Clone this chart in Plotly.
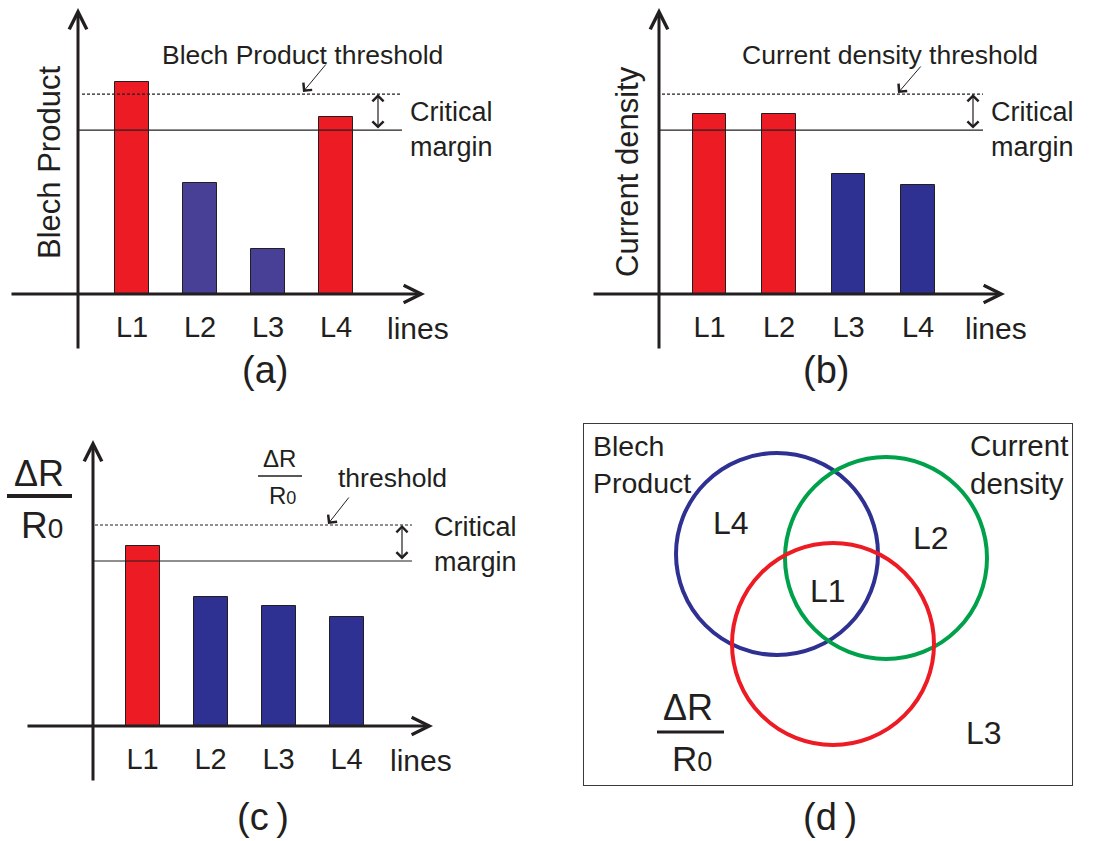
import plotly.graph_objects as go

W, H = 1100, 841
FONT = "Liberation Sans, Arial, sans-serif"
INK = "#231f20"
RED = "#ed1c24"
BLUE_A = "#483f96"
BLUE = "#2e3192"

# ---- data -------------------------------------------------------------
lines = ["L1", "L2", "L3", "L4"]
blech_product = [7.41, 3.88, 1.57, 6.19]
current_density = [6.29, 6.29, 4.20, 3.81]
resistance_change = [6.29, 4.51, 4.20, 3.81]

blech_threshold, blech_margin = 6.99, 5.73
current_threshold, current_margin = 6.99, 5.73
resistance_threshold, resistance_margin = 7.03, 5.77

# Venn sets: (label, centre x, centre y, radius, colour) in box units
venn_sets = [
    ("Blech Product", 193, 231, 101, "#2e3192"),
    ("Current density", 302, 227, 101, "#00a14b"),
    ("dR/R0", 249, 141, 101, "#ed1c24"),
]
venn_regions = [("L4", 731, 523), ("L2", 931, 538), ("L1", 828, 591), ("L3", 984, 733)]


def px(x):
    return x / W


def py(y):
    return 1 - y / H


fig = go.Figure()
annotations = []
shapes = []


def text(x, y, s, size, xanchor="center", yanchor="middle", angle=0, align="center"):
    annotations.append(dict(
        x=px(x), y=py(y), xref="paper", yref="paper", text=s, showarrow=False,
        xanchor=xanchor, yanchor=yanchor, textangle=angle, align=align,
        font=dict(family=FONT, size=size, color=INK)))


def hline(x0, x1, y, width=1.0, dash="solid", yref="paper"):
    shapes.append(dict(type="line", xref="paper", yref=yref,
                       x0=px(x0), x1=px(x1), y0=y, y1=y,
                       line=dict(color=INK, width=width, dash=dash)))


panels = [
    dict(values=blech_product, threshold=blech_threshold, margin=blech_margin, blue=BLUE_A,
         left=10, right=425, top=8, zero=294, bottom=350, origin=78, first=132, step=68, bar=0.5,
         dash_from=82, line_to=402, arrow_x=378, lines_x=418, lines_y=328,
         tag="(a)", tag_x=265, tag_y=370),
    dict(values=current_density, threshold=current_threshold, margin=current_margin, blue=BLUE,
         left=592, right=1005, top=8, zero=294, bottom=350, origin=659, first=709.5, step=69.5, bar=0.475,
         dash_from=662, line_to=983, arrow_x=973, lines_x=996, lines_y=328,
         tag="(b)", tag_x=826, tag_y=370),
    dict(values=resistance_change, threshold=resistance_threshold, margin=resistance_margin, blue=BLUE,
         left=26, right=433, top=440, zero=726, bottom=782, origin=93, first=142.5, step=68, bar=0.5,
         dash_from=95, line_to=412, arrow_x=402, lines_x=421, lines_y=760,
         tag="(c\u2009)", tag_x=263, tag_y=817),
]

layout_axes = {}
for i, p in enumerate(panels, start=1):
    xa = "x" if i == 1 else f"x{i}"
    ya = "y" if i == 1 else f"y{i}"
    colors = [RED if v > p["margin"] else p["blue"] for v in p["values"]]
    fig.add_trace(go.Bar(
        x=lines, y=p["values"], width=p["bar"], xaxis=xa, yaxis=ya,
        marker=dict(color=colors, line=dict(color=INK, width=1)),
        hoverinfo="x+y"))

    r0 = -(p["first"] - p["left"]) / p["step"]
    r1 = r0 + (p["right"] - p["left"]) / p["step"]
    layout_axes["xaxis" if i == 1 else f"xaxis{i}"] = dict(
        domain=[px(p["left"]), px(p["right"])], range=[r0, r1], type="category",
        anchor=ya, showline=False, showgrid=False, zeroline=False, ticks="",
        tickfont=dict(family=FONT, size=29, color=INK), ticklabelstandoff=13)
    layout_axes["yaxis" if i == 1 else f"yaxis{i}"] = dict(
        domain=[py(p["zero"]), py(p["top"])], range=[0, 10], anchor=xa,
        showline=False, showgrid=False, zeroline=False, showticklabels=False, ticks="")

    # axes drawn as arrows
    annotations.append(dict(xref="paper", yref=ya, x=px(p["right"]), y=0,
                            axref="pixel", ayref="pixel", ax=-(p["right"] - p["left"]), ay=0,
                            text="", showarrow=True, arrowhead=5, arrowsize=1.15, arrowwidth=3,
                            arrowcolor=INK, standoff=0))
    annotations.append(dict(xref="paper", yref=ya, x=px(p["origin"]), y=10,
                            axref="pixel", ayref="pixel", ax=0, ay=p["bottom"] - p["top"],
                            text="", showarrow=True, arrowhead=5, arrowsize=1.15, arrowwidth=3,
                            arrowcolor=INK, standoff=0))

    # threshold (dashed) and critical margin (solid) lines
    hline(p["dash_from"], p["line_to"], p["threshold"], width=1.1, dash="3px,2px", yref=ya)
    hline(p["origin"], p["line_to"], p["margin"], width=1.1, yref=ya)
    annotations.append(dict(xref="paper", yref=ya, x=px(p["arrow_x"]), y=p["threshold"],
                            axref="pixel", ax=0, ayref=ya, ay=p["margin"],
                            text="", showarrow=True, arrowside="end+start",
                            arrowhead=4, startarrowhead=4, arrowsize=1.8, startarrowsize=1.8,
                            arrowwidth=1.2, arrowcolor=INK, standoff=0, startstandoff=0))

    text(p["lines_x"], p["lines_y"], "lines", 30)
    text(p["tag_x"], p["tag_y"], p["tag"], 38)

# critical margin labels
text(408, 129, "Critical<br>margin", 27, xanchor="left", align="left")
text(989, 129, "Critical<br>margin", 27, xanchor="left", align="left")
text(432, 544, "Critical<br>margin", 27, xanchor="left", align="left")

# y axis titles
text(50, 163, "Blech Product", 31, angle=-90)
text(627, 172, "Current density", 31, angle=-90)
text(39, 473, "\u0394R", 36)
shapes.append(dict(type="line", xref="paper", yref="paper", x0=px(7), x1=px(72), y0=py(496), y1=py(496),
                   line=dict(color=INK, width=4)))
text(42, 525, "R<span style='font-size:28px'>0</span>", 37)

# threshold labels with pointer arrows
text(302, 55, "Blech Product threshold", 26.5)
text(890, 55, "Current density threshold", 26.5)
text(280, 458, "\u0394R", 24)
shapes.append(dict(type="line", xref="paper", yref="paper", x0=px(258), x1=px(302), y0=py(476), y1=py(476),
                   line=dict(color=INK, width=1.3)))
text(282, 496, "R<span style='font-size:18px'>0</span>", 24)
text(392, 478, "threshold", 26.5)

for tip, tail in [((303, 92), (327, 63)), ((898, 93), (922, 65)), ((328, 524), (350, 496))]:
    annotations.append(dict(xref="paper", yref="paper", x=px(tip[0]), y=py(tip[1]),
                            axref="pixel", ayref="pixel", ax=tail[0] - tip[0], ay=tail[1] - tip[1],
                            text="", showarrow=True, arrowhead=4, arrowsize=2.2, arrowwidth=1,
                            arrowcolor=INK, standoff=0))

# ---- panel (d): Venn diagram -------------------------------------------
BOX_L, BOX_R, BOX_T, BOX_B = 584, 1072, 424, 785
fig.add_trace(go.Scatter(x=[None], y=[None], xaxis="x4", yaxis="y4", showlegend=False, hoverinfo="skip"))
layout_axes["xaxis4"] = dict(domain=[px(BOX_L), px(BOX_R)], range=[0, BOX_R - BOX_L], anchor="y4",
                             showline=True, mirror=True, linecolor="#3a3a3a", linewidth=1.2,
                             showgrid=False, zeroline=False, showticklabels=False, ticks="")
layout_axes["yaxis4"] = dict(domain=[py(BOX_B), py(BOX_T)], range=[0, BOX_B - BOX_T], anchor="x4",
                             showline=True, mirror=True, linecolor="#3a3a3a", linewidth=1.2,
                             showgrid=False, zeroline=False, showticklabels=False, ticks="")
for name, cx, cy, r, col in venn_sets:
    shapes.append(dict(type="circle", xref="x4", yref="y4", x0=cx - r, x1=cx + r, y0=cy - r, y1=cy + r,
                       line=dict(color=col, width=4)))

text(591, 464, "Blech<br>Product", 28.5, xanchor="left", align="left")
text(968, 464, "Current<br>density", 29.5, xanchor="left", align="left")
for lab, x, y in venn_regions:
    text(x, y, lab, 32)
text(688, 707, "\u0394R", 36)
shapes.append(dict(type="line", xref="paper", yref="paper", x0=px(657), x1=px(724), y0=py(732), y1=py(732),
                   line=dict(color=INK, width=3)))
text(692, 758, "R<span style='font-size:27px'>0</span>", 35)
text(830, 817, "(d\u2009)", 38)

fig.update_layout(
    width=W, height=H, margin=dict(l=0, r=0, t=0, b=0),
    paper_bgcolor="white", plot_bgcolor="rgba(0,0,0,0)",
    showlegend=False, bargap=0,
    annotations=annotations, shapes=shapes,
    **layout_axes,
)

fig.write_html("out.html")
